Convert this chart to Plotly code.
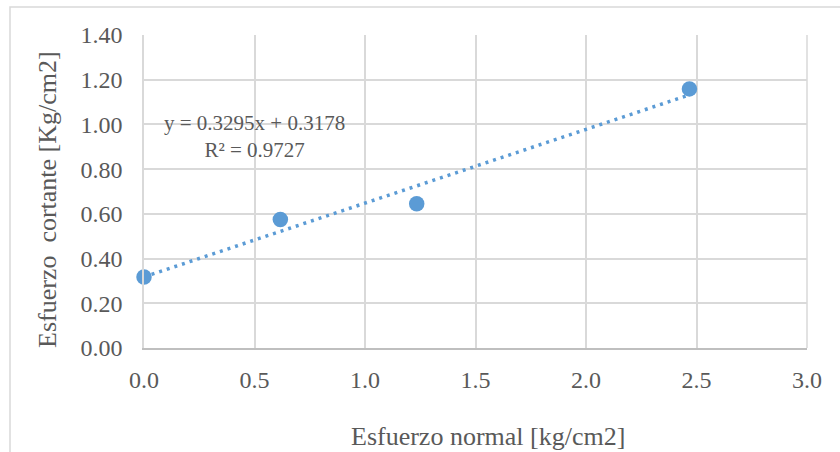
import numpy as np
import plotly.graph_objects as go

# Data
esfuerzo_normal = [0.0, 0.617, 1.234, 2.468]
esfuerzo_cortante = [0.318, 0.575, 0.645, 1.159]
eq_text = "y = 0.3295x + 0.3178"
r2_text = "R² = 0.9727"
x_title = "Esfuerzo normal [kg/cm2]"
y_title = "Esfuerzo\u00a0\u00a0cortante [Kg/cm2]"

W, H = 840, 452
ML, MR, MT, MB = 144, 33, 35, 104
PW = W - ML - MR
PH = H - MT - MB

def px_x(p):
    return (p - ML) / PW

def px_y(p):
    return (H - MB - p) / PH

slope, intercept = np.polyfit(esfuerzo_normal, esfuerzo_cortante, 1)
tx = [min(esfuerzo_normal), max(esfuerzo_normal)]
ty = [slope * v + intercept for v in tx]

blue = "#5B9BD5"
grey_txt = "#595959"
grid = "#D9D9D9"
font = "Liberation Serif"

fig = go.Figure()
fig.add_trace(go.Scatter(
    x=tx, y=ty, mode="lines",
    line=dict(color=blue, width=3.5, dash="3px,5px"),
    hoverinfo="skip", showlegend=False, cliponaxis=False))
fig.add_trace(go.Scatter(
    x=esfuerzo_normal, y=esfuerzo_cortante, mode="markers",
    marker=dict(color=blue, size=15.5, line=dict(width=0)),
    showlegend=False, cliponaxis=False))

fig.update_layout(
    width=W, height=H,
    margin=dict(l=ML, r=MR, t=MT, b=MB),
    paper_bgcolor="white", plot_bgcolor="white",
    font=dict(family=font, color=grey_txt, size=24),
    xaxis=dict(range=[0, 3], dtick=0.5, tickformat=".1f",
               showgrid=True, gridcolor=grid, gridwidth=1.5,
               zeroline=False, showline=True, linecolor="#BFBFBF", linewidth=1.5,
               ticks="", ticklabelstandoff=9,
               tickfont=dict(size=24, color=grey_txt, family=font)),
    yaxis=dict(range=[0, 1.4], dtick=0.2, tickformat=".2f",
               showgrid=True, gridcolor=grid, gridwidth=1.5,
               zeroline=False, showline=True, linecolor=grid, linewidth=1.5,
               mirror=False, ticks="", ticklabelstandoff=15,
               tickfont=dict(size=24, color=grey_txt, family=font)),
    shapes=[dict(type="line", xref="paper", yref="paper",
                 x0=1, x1=1, y0=0, y1=1, line=dict(color=grid, width=1.5)),
            dict(type="rect", xref="paper", yref="paper",
                 x0=px_x(10), x1=px_x(860), y0=px_y(470), y1=px_y(7),
                 line=dict(color=grid, width=1.5), fillcolor="rgba(0,0,0,0)",
                 layer="below")],
    annotations=[
        dict(text=eq_text + "<br>" + r2_text, xref="paper", yref="paper",
             x=px_x(254), y=px_y(136.5), xanchor="center", yanchor="middle",
             showarrow=False, align="center",
             font=dict(size=21, color=grey_txt, family=font)),
        dict(text=x_title, xref="paper", yref="paper",
             x=px_x(488), y=px_y(436.7), xanchor="center", yanchor="middle",
             showarrow=False, font=dict(size=26, color=grey_txt, family=font)),
        dict(text=y_title, xref="paper", yref="paper", textangle=-90,
             x=px_x(47), y=px_y(200), xanchor="center", yanchor="middle",
             showarrow=False, font=dict(size=26, color=grey_txt, family=font)),
    ],
)

fig.write_html("out.html")
